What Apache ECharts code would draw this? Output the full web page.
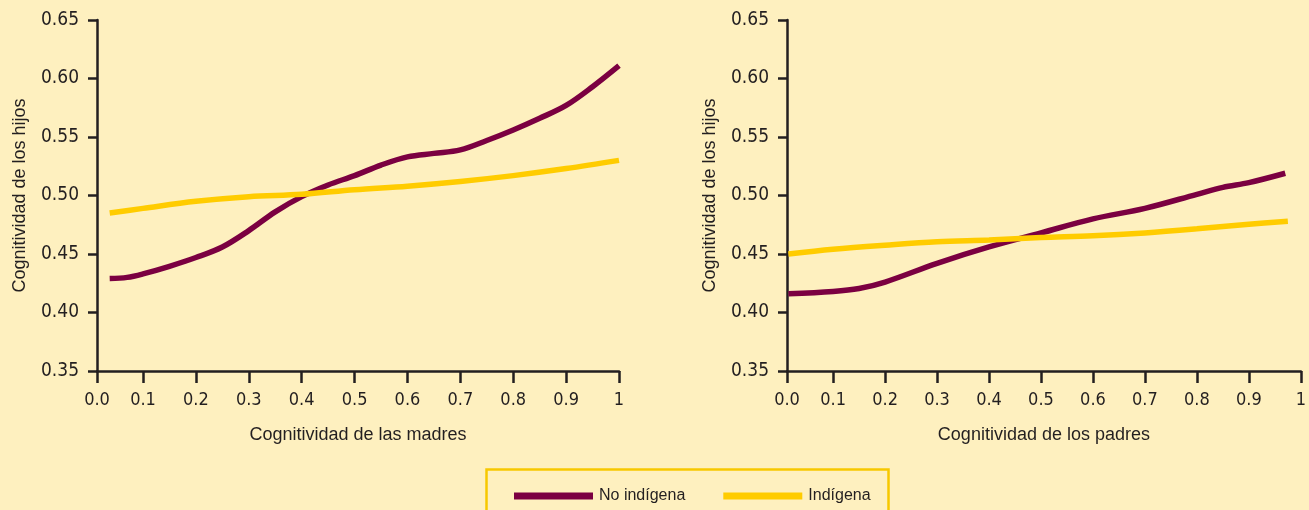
<!DOCTYPE html>
<html>
<head>
<meta charset="utf-8">
<script src="https://cdn.jsdelivr.net/npm/echarts@6/dist/echarts.min.js"></script>
<style>
html,body{margin:0;padding:0;background:#fef0bf;}
#chart{width:1309px;height:510px;}
</style>
</head>
<body>
<div id="chart"></div>
<script>
// Tick labels
const xTickValues = [0.1, 0.2, 0.3, 0.4, 0.5, 0.6, 0.7, 0.8, 0.9, 1.0];
const yTickLabels = ['0.35', '0.40', '0.45', '0.50', '0.55', '0.60', '0.65'];
const seriesNames = ['No indígena', 'Indígena'];

// Left panel: cognitividad de las madres
const madresX_noInd = [0.037, 0.07, 0.1, 0.15, 0.2, 0.25, 0.3, 0.35, 0.4, 0.45, 0.5, 0.55, 0.6, 0.65, 0.7, 0.75, 0.8, 0.85, 0.9, 0.95, 1.0];
const madresY_noInd = [0.429, 0.430, 0.433, 0.4395, 0.447, 0.456, 0.470, 0.486, 0.499, 0.509, 0.517, 0.526, 0.533, 0.536, 0.539, 0.547, 0.556, 0.566, 0.577, 0.593, 0.611];
const madresX_ind = [0.037, 0.1, 0.2, 0.3, 0.4, 0.5, 0.6, 0.7, 0.8, 0.9, 1.0];
const madresY_ind = [0.485, 0.489, 0.495, 0.499, 0.501, 0.505, 0.508, 0.512, 0.517, 0.523, 0.530];

// Right panel: cognitividad de los padres
const padresX_noInd = [0.014, 0.1, 0.15, 0.2, 0.3, 0.4, 0.5, 0.6, 0.7, 0.8, 0.85, 0.9, 0.97];
const padresY_noInd = [0.416, 0.418, 0.4205, 0.426, 0.442, 0.456, 0.468, 0.480, 0.489, 0.501, 0.507, 0.511, 0.519];
const padresX_ind = [0.014, 0.1, 0.2, 0.3, 0.4, 0.5, 0.6, 0.7, 0.8, 0.9, 0.975];
const padresY_ind = [0.450, 0.454, 0.4575, 0.4605, 0.462, 0.464, 0.4655, 0.468, 0.4715, 0.4755, 0.478];

const zip = (xs, ys) => xs.map((x, i) => [x, ys[i]]);

const AX = '#231f20';
const MAROON = '#7b0041';
const YELLOW = '#ffcc00';
const NUM_FONT = "'Liberation Sans Narrow', 'DejaVu Sans Condensed', 'Liberation Sans', sans-serif";
const TXT_FONT = "'Liberation Sans Narrow', 'Liberation Sans', sans-serif";

function makeX(gridIndex, name, start) {
  const vals = [start].concat(xTickValues);
  return {
    type: 'value', gridIndex: gridIndex, min: start, max: 1,
    name: name, nameLocation: 'middle', nameGap: 55,
    nameTextStyle: {color: AX, fontSize: 18, fontFamily: TXT_FONT},
    axisLine: {show: true, onZero: false, lineStyle: {color: AX, width: 2.5}},
    axisTick: {show: true, customValues: vals, length: 12, lineStyle: {color: AX, width: 2.5}},
    axisLabel: {
      customValues: vals, margin: 20, color: AX, fontSize: 18, fontFamily: NUM_FONT,
      formatter: v => (v < 0.05 ? '0.0' : (v > 0.99 ? '1' : v.toFixed(1)))
    },
    splitLine: {show: false}
  };
}
function makeY(gridIndex) {
  return {
    type: 'value', gridIndex: gridIndex, min: 0.35, max: 0.65, interval: 0.05,
    name: 'Cognitividad de los hijos', nameLocation: 'middle', nameGap: 68,
    nameTextStyle: {color: AX, fontSize: 18, fontFamily: TXT_FONT},
    axisLine: {show: true, lineStyle: {color: AX, width: 2.5}},
    axisTick: {show: true, length: 9, lineStyle: {color: AX, width: 2.5}},
    axisLabel: {
      margin: 18, color: AX, fontSize: 19, fontFamily: NUM_FONT,
      formatter: v => yTickLabels[Math.round((v - 0.35) / 0.05)]
    },
    splitLine: {show: false}
  };
}
function makeLine(name, xi, data, color) {
  return {
    name: name, type: 'line', xAxisIndex: xi, yAxisIndex: xi,
    data: data, smooth: 0.35, showSymbol: false, symbol: 'none',
    lineStyle: {color: color, width: 5.5, cap: 'butt'}, itemStyle: {color: color},
    clip: false, silent: true
  };
}

const chart = echarts.init(document.getElementById('chart'), null, {renderer: 'canvas'});
chart.setOption({
  backgroundColor: '#fef0bf',
  animation: false,
  grid: [
    {left: 97, top: 20, width: 522, height: 351},
    {left: 787, top: 20, width: 520, height: 351}
  ],
  xAxis: [makeX(0, 'Cognitividad de las madres', 0.013), makeX(1, 'Cognitividad de los padres', 0.0113)],
  yAxis: [makeY(0), makeY(1)],
  legend: {
    data: seriesNames, left: 509, top: 483, icon: 'rect',
    itemWidth: 79, itemHeight: 7, itemGap: 38,
    textStyle: {color: AX, fontSize: 16, fontFamily: TXT_FONT, padding: [0, 0, 0, 1]},
    selectedMode: false
  },
  graphic: [{
    type: 'rect', left: 484, top: 467,
    shape: {width: 402, height: 50},
    style: {fill: 'none', stroke: '#f7c800', lineWidth: 2.5},
    silent: true
  }],
  series: [
    makeLine(seriesNames[0], 0, zip(madresX_noInd, madresY_noInd), MAROON),
    makeLine(seriesNames[1], 0, zip(madresX_ind, madresY_ind), YELLOW),
    makeLine(seriesNames[0], 1, zip(padresX_noInd, padresY_noInd), MAROON),
    makeLine(seriesNames[1], 1, zip(padresX_ind, padresY_ind), YELLOW)
  ]
});
</script>
</body>
</html>
